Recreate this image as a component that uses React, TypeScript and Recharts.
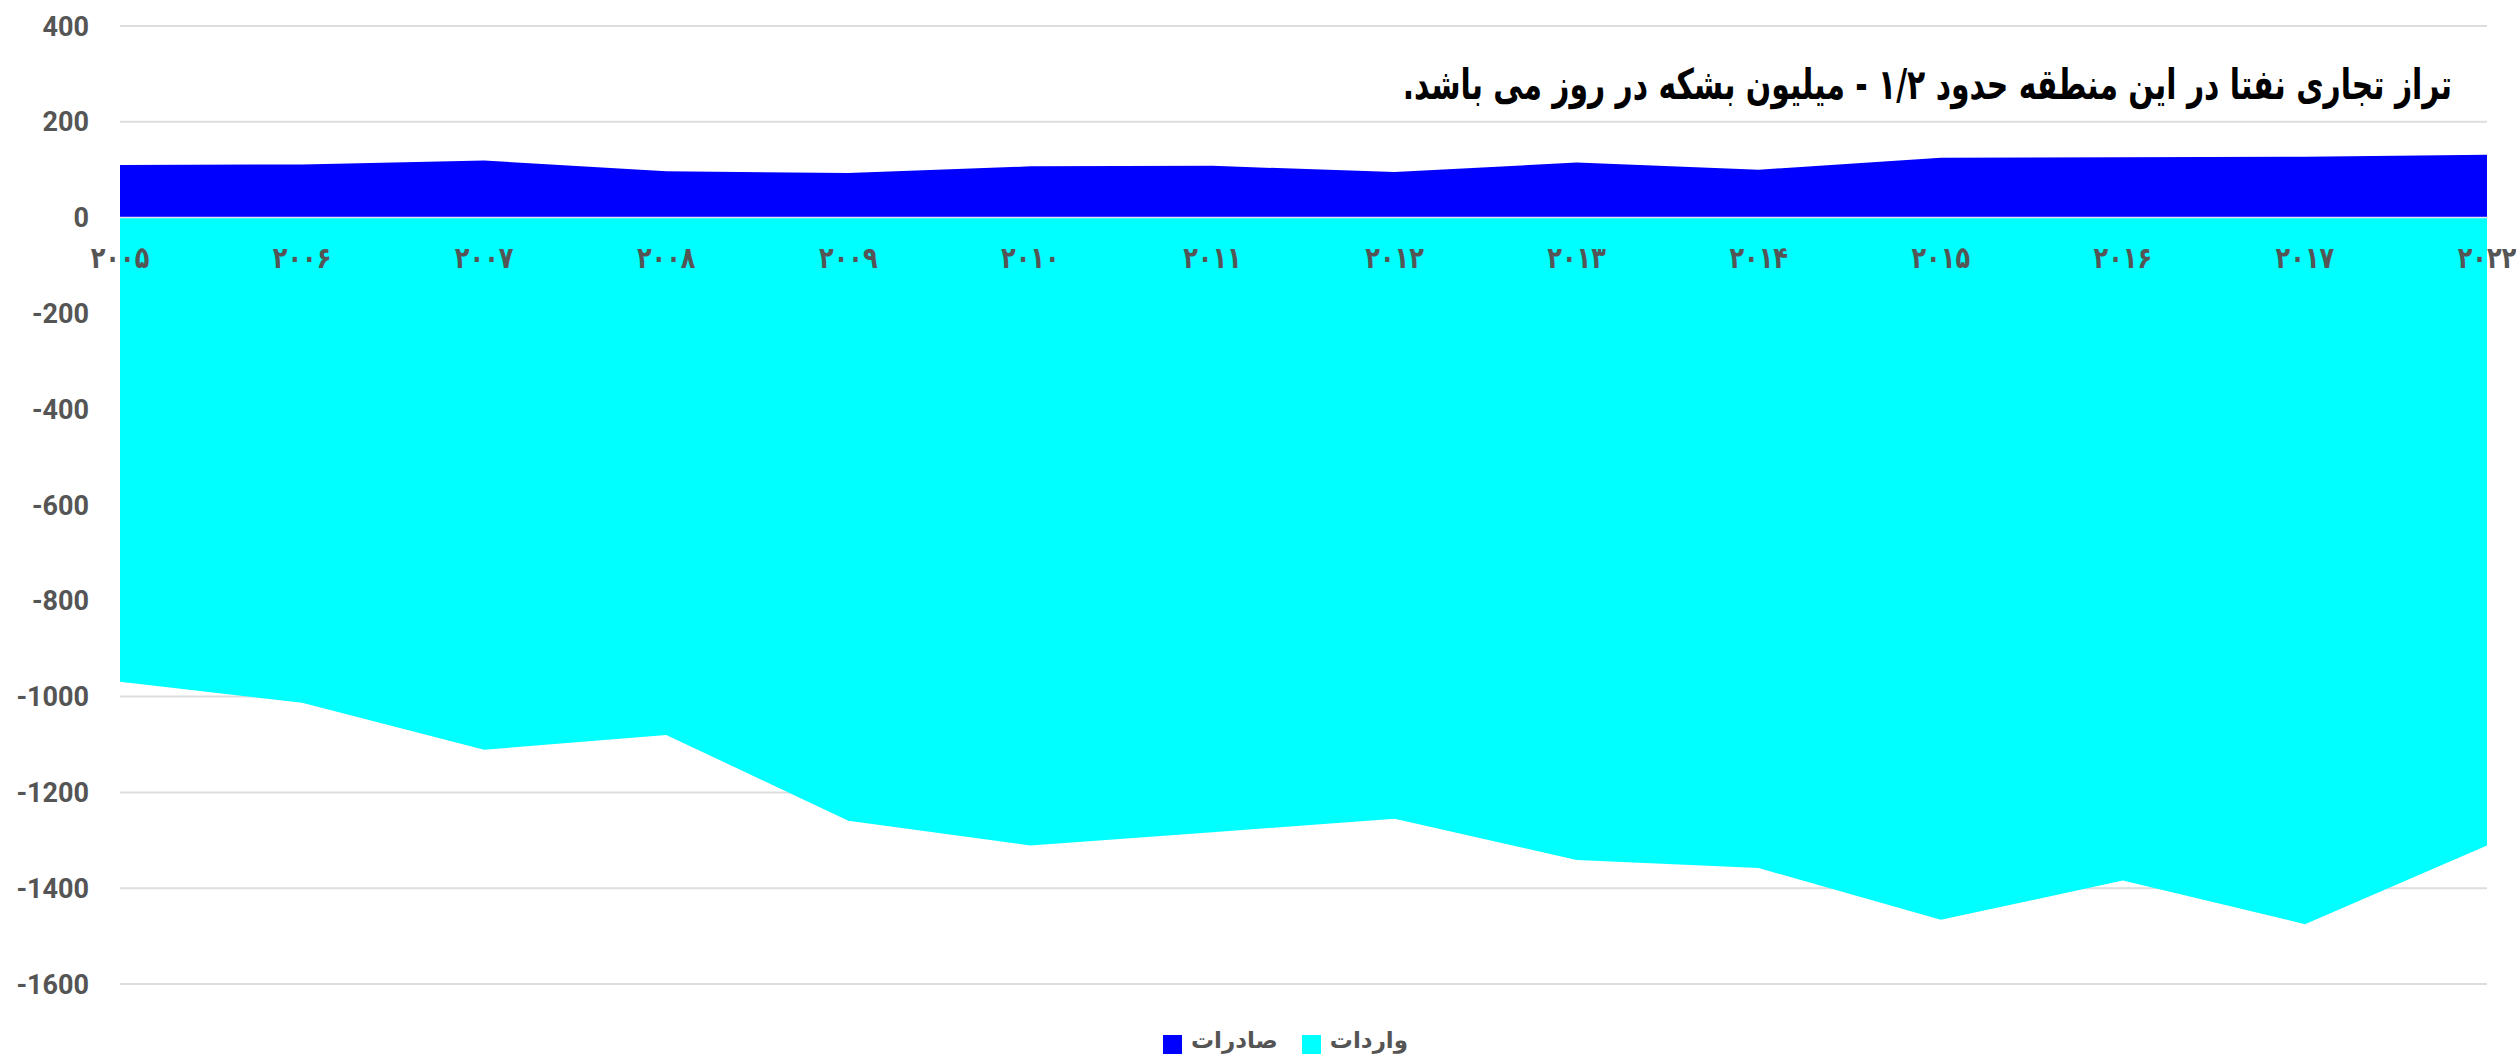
import {
  AreaChart,
  Area,
  XAxis,
  YAxis,
  CartesianGrid,
  Legend,
  ReferenceLine,
} from "recharts";

const years = [
  "۲۰۰۵",
  "۲۰۰۶",
  "۲۰۰۷",
  "۲۰۰۸",
  "۲۰۰۹",
  "۲۰۱۰",
  "۲۰۱۱",
  "۲۰۱۲",
  "۲۰۱۳",
  "۲۰۱۴",
  "۲۰۱۵",
  "۲۰۱۶",
  "۲۰۱۷",
  "۲۰۲۲",
];

// صادرات (exports) - positive
const exportsValues = [110, 111, 119, 97, 93, 107, 108, 95, 115, 100, 125, 126, 127, 131];
// واردات (imports) - negative
const importsValues = [
  -969, -1013, -1111, -1080, -1259, -1311, -1283, -1255, -1341, -1358, -1466, -1384, -1475, -1311,
];

const yTicks = [400, 200, 0, -200, -400, -600, -800, -1000, -1200, -1400, -1600];

const TITLE = "تراز تجاری نفتا در این منطقه حدود ۱/۲ - میلیون بشکه در روز می باشد.";

const data = years.map((year, i) => ({
  year,
  exports: exportsValues[i],
  imports: importsValues[i],
}));

const W = 2516;
const H = 1061;
const PLOT_TOP = 26;
const PLOT_BOTTOM = 984;
const Y_MIN = -1600;
const Y_MAX = 400;
const LEGEND_H = 38;
const X_AXIS_H = 1;

// distance from plot bottom to the zero line
const zeroFromBottom = ((PLOT_BOTTOM - PLOT_TOP) * (0 - Y_MIN)) / (Y_MAX - Y_MIN);

const YearTick = (props: any) => {
  const { x, y, payload } = props;
  const ty = y - zeroFromBottom + 40;
  return (
    <text
      x={x}
      y={ty}
      textAnchor="middle"
      dominantBaseline="central"
      fill="#555555"
      fontFamily="'DejaVu Sans', sans-serif"
      fontWeight={700}
      fontSize={30}
      transform={`translate(${x} ${ty}) scale(0.8 1) translate(${-x} ${-ty})`}
    >
      {payload.value}
    </text>
  );
};

const legendLabel = (value: string) => (
  <span
    style={{
      color: "#555555",
      fontWeight: 700,
      fontSize: 23,
      fontFamily: "Roboto, 'DejaVu Sans', sans-serif",
      marginLeft: 5,
      marginRight: 14,
    }}
  >
    {value}
  </span>
);

export default function App() {
  return (
    <div style={{ position: "absolute", left: 0, top: 0, width: W, height: H, background: "#fff" }}>
      <AreaChart
        width={W}
        height={H}
        data={data}
        margin={{ top: PLOT_TOP, right: 29, left: 0, bottom: H - PLOT_BOTTOM - X_AXIS_H - LEGEND_H }}
      >
        <CartesianGrid vertical={false} stroke="#dddddd" strokeWidth={2} />
        <YAxis
          type="number"
          domain={[Y_MIN, Y_MAX]}
          ticks={yTicks}
          interval={0}
          width={120}
          axisLine={false}
          tickLine={false}
          tickSize={0}
          tickMargin={31}
          tick={{
            fill: "#555555",
            fontSize: 27,
            fontWeight: 700,
            fontFamily: "Roboto, sans-serif",
          }}
        />
        <Area
          type="linear"
          dataKey="exports"
          name="صادرات"
          fill="#0000ff"
          fillOpacity={1}
          stroke="none"
          isAnimationActive={false}
          activeDot={false}
        />
        <Area
          type="linear"
          dataKey="imports"
          name="واردات"
          fill="#00ffff"
          fillOpacity={1}
          stroke="none"
          isAnimationActive={false}
          activeDot={false}
        />
        <ReferenceLine y={0} stroke="#e4e4f4" strokeWidth={1.5} />
        <XAxis
          dataKey="year"
          height={X_AXIS_H}
          interval={0}
          axisLine={false}
          tickLine={false}
          tickSize={0}
          tickMargin={0}
          tick={<YearTick />}
        />
        <Legend
          verticalAlign="bottom"
          iconType="square"
          iconSize={19}
          height={LEGEND_H}
          formatter={legendLabel}
          wrapperStyle={{ bottom: -4, left: 54 }}
        />
      </AreaChart>
      <div
        style={{
          position: "absolute",
          right: 64,
          top: 60,
          direction: "rtl",
          whiteSpace: "nowrap",
          fontFamily: "'DejaVu Sans', sans-serif",
          fontWeight: 700,
          fontSize: 42,
          lineHeight: "50px",
          color: "#000",
          transform: "scaleX(0.71)",
          transformOrigin: "right center",
        }}
      >
        {TITLE}
      </div>
    </div>
  );
}
